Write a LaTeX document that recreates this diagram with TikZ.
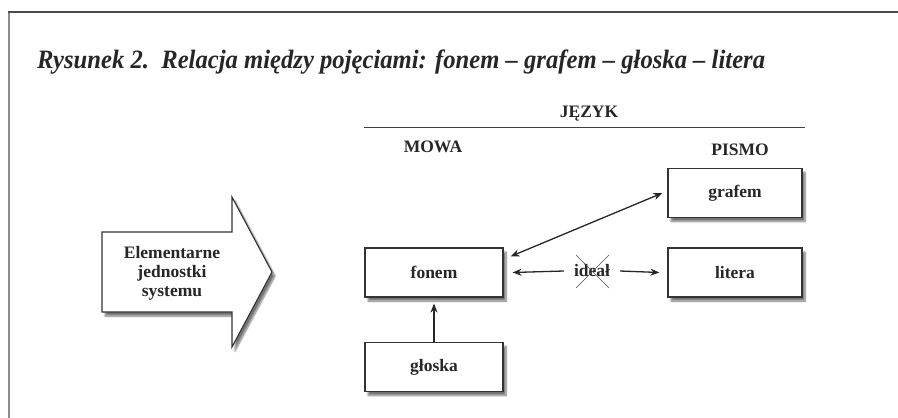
\documentclass[tikz,border=0pt]{standalone}
\usepackage{fontspec}
\setmainfont{Liberation Serif}
\usetikzlibrary{arrows.meta,shadows.blur}
\tikzset{
  unit/.style={draw=black!80, line width=1.1pt, fill=white, text=black!85,
    minimum height=49pt, font=\fontsize{17.5}{20}\selectfont\bfseries,
    blur shadow={shadow xshift=3pt, shadow yshift=-4pt, shadow blur steps=8, shadow opacity=55}},
  label/.style={text=black!85, font=\fontsize{17.5}{20}\selectfont\bfseries},
  link/.style={draw=black!85, line width=1.3pt, -{Stealth[length=9pt,width=7pt]}},
  twoway/.style={draw=black!85, line width=1.3pt, {Stealth[length=9pt,width=7pt]}-{Stealth[length=9pt,width=7pt]}},
}
\begin{document}
\begin{tikzpicture}[x=1pt,y=-1pt]
\useasboundingbox (0,0) rectangle (898,418);
% frame
\draw[black!45, line width=2pt] (9,419) -- (9,12);
\draw[black!70, line width=2pt] (8,12) -- (899,12);
% title
\node[anchor=base west, inner sep=0pt, text=black!85,
  font=\fontsize{26.5}{30}\selectfont\bfseries\itshape] (title) at (37,68)
  {\scalebox{0.93}[1]{Rysunek 2.\ \ Relacja między pojęciami: fonem – grafem – głoska – litera}};
% header
\node[label] (jezyk) at (589,114) {JĘZYK};
\coordinate (ruleL) at (364,127);
\coordinate (ruleR) at (805,127);
\draw[black!75, line width=1pt] (ruleL) -- (ruleR);
\node[label] (mowa) at (433,147) {MOWA};
\node[label] (pismo) at (740,150) {PISMO};
% big arrow
\draw[draw=black!80, line width=1.1pt, fill=white,
  blur shadow={shadow xshift=3pt, shadow yshift=-4pt, shadow blur steps=8, shadow opacity=55}]
  (102,232) -- (232,232) -- (232,197) -- (272,272) -- (232,347) -- (232,312) -- (102,312) -- cycle;
\node[label, align=center, font=\fontsize{17.5}{19}\selectfont\bfseries] (elem) at (172,273)
  {Elementarne\\jednostki\\systemu};
% boxes
\node[unit, minimum width=138pt] (fonem) at (434,272.5) {fonem};
\node[unit, minimum width=138pt] (gloska) at (434,367) {głoska};
\node[unit, minimum width=134pt] (grafem) at (735,193) {grafem};
\node[unit, minimum width=134pt] (litera) at (735,272.5) {litera};
% crossed-out ideal
\node[text=black!85, font=\fontsize{17.5}{20}\selectfont\bfseries, inner sep=10pt] (ideal) at (592,271) {ideał};
\draw[black!70, line width=0.6pt] ([shift={(-16,-16)}]ideal.center) -- ([shift={(17,17)}]ideal.center);
\draw[black!70, line width=0.6pt] ([shift={(-16,17)}]ideal.center) -- ([shift={(17,-16)}]ideal.center);
% connectors
\draw[twoway] ([xshift=7pt,yshift=-9pt]fonem.north east) -- ([xshift=-5pt]grafem.west);
\draw[link] (ideal.west) -- ([xshift=9pt]fonem.east);
\draw[link] (ideal.east) -- ([xshift=-8pt]litera.west);
\draw[link] (gloska.north) -- ([yshift=-6pt]fonem.south);
\end{tikzpicture}
\end{document}
